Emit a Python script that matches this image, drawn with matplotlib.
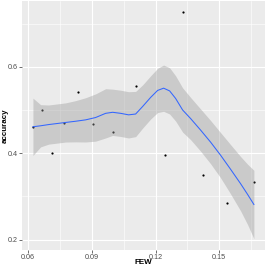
"""
FEW vs accuracy scatter with smooth line and ribbon (ggplot-style look)
"""
import numpy as np
import matplotlib
matplotlib.use('Agg')
import matplotlib.pyplot as plt

# points
few = [0.0624, 0.0666, 0.0714, 0.0769, 0.0834, 0.0908, 0.0998,
       0.1110, 0.1245, 0.1330, 0.1425, 0.1534, 0.1663]
accuracy = [0.460, 0.500, 0.400, 0.470, 0.542, 0.467, 0.449,
            0.556, 0.395, 0.726, 0.350, 0.286, 0.333]

# smooth curve and ribbon half-width
smooth_x = [0.06235, 0.06597, 0.06973, 0.07350, 0.07773, 0.08243, 0.08713,
            0.09183, 0.09654, 0.09983, 0.10359, 0.10735, 0.11065, 0.11394,
            0.11770, 0.12099, 0.12381, 0.12664, 0.12946, 0.13275, 0.13651,
            0.14121, 0.14592, 0.15062, 0.15532, 0.16002, 0.16331, 0.16627]
smooth_fit = [0.4612, 0.4635, 0.4663, 0.4686, 0.4712, 0.4740, 0.4772,
              0.4826, 0.4923, 0.4947, 0.4923, 0.4888, 0.4907, 0.5081,
              0.5291, 0.5453, 0.5505, 0.5442, 0.5267, 0.5000, 0.4802,
              0.4535, 0.4256, 0.3953, 0.3628, 0.3295, 0.3047, 0.2814]
band_half = [0.0663, 0.0488, 0.0453, 0.0453, 0.0453, 0.0477, 0.0512,
             0.0547, 0.0570, 0.0535, 0.0535, 0.0535, 0.0523, 0.0500,
             0.0500, 0.0512, 0.0535, 0.0535, 0.0523, 0.0512, 0.0488,
             0.0488, 0.0500, 0.0523, 0.0570, 0.0628, 0.0698, 0.0791]

x_ticks = [0.06, 0.09, 0.12, 0.15]
x_tick_labels = ['0.06', '0.09', '0.12', '0.15']
y_ticks = [0.2, 0.4, 0.6]
y_tick_labels = ['0.2', '0.4', '0.6']
x_minor = [0.075, 0.105, 0.135, 0.165]
y_minor = [0.3, 0.5, 0.7]

x = np.array(few)
y = np.array(accuracy)
sx = np.array(smooth_x)
fit = np.array(smooth_fit)
lo = fit - np.array(band_half)
hi = fit + np.array(band_half)

fig = plt.figure(figsize=(2.66, 2.66), dpi=100)
ax = fig.add_axes([22 / 266, 16 / 266, 243 / 266, 249 / 266])
ax.set_facecolor('#EBEBEB')
for s in ax.spines.values():
    s.set_visible(False)

# limits with ggplot's 5% expansion
xmin, xmax = x.min(), x.max()
ymin, ymax = min(y.min(), lo.min()), max(y.max(), hi.max())
ax.set_xlim(xmin - 0.05 * (xmax - xmin), xmax + 0.05 * (xmax - xmin))
ax.set_ylim(ymin - 0.05 * (ymax - ymin), ymax + 0.05 * (ymax - ymin))

# grid
for v in x_minor:
    ax.axvline(v, color='white', lw=0.4, zorder=0)
for v in y_minor:
    ax.axhline(v, color='white', lw=0.4, zorder=0)
for v in x_ticks:
    ax.axvline(v, color='white', lw=0.8, zorder=0)
for v in y_ticks:
    ax.axhline(v, color='white', lw=0.8, zorder=0)

ax.scatter(x, y, s=2.5, color='black', zorder=2, linewidths=0)
ax.fill_between(sx, lo, hi, color='#999999', alpha=0.4, lw=0, zorder=3)
ax.plot(sx, fit, color='#3366FF', lw=0.75, zorder=4)

ax.set_xticks(x_ticks)
ax.set_xticklabels(x_tick_labels)
ax.set_yticks(y_ticks)
ax.set_yticklabels(y_tick_labels)
ax.tick_params(length=2, width=0.5, color='#333333', pad=1,
               labelsize=5.2, labelcolor='#4D4D4D')
for lab in ax.get_xticklabels() + ax.get_yticklabels():
    lab.set_family('Liberation Sans')

# axis titles
fig.text(143.5 / 266, 1 - 262.5 / 266, 'FEW', ha='center', va='center',
         fontsize=5.8, fontweight='bold', family='Liberation Sans')
fig.text(5.5 / 266, 1 - 125.5 / 266, 'accuracy', ha='center', va='center', rotation=90,
         fontsize=5.8, fontweight='bold', family='Liberation Sans')

fig.savefig('out.png', dpi=100, facecolor='white')
